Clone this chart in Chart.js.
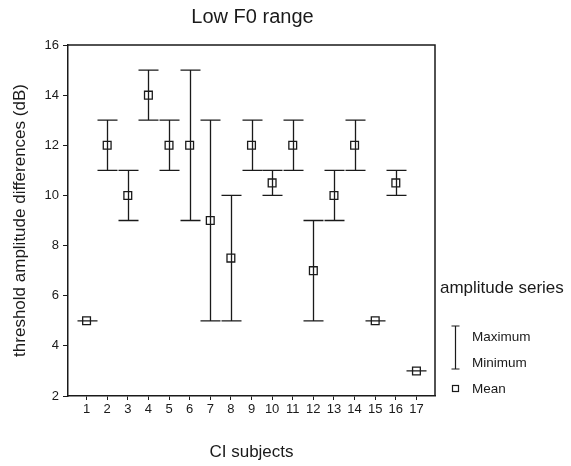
<!DOCTYPE html>
<html>
<head>
<meta charset="utf-8">
<title>Low F0 range</title>
<script src="https://cdn.jsdelivr.net/npm/chart.js@4/dist/chart.umd.min.js"></script>
<style>
  html, body { margin: 0; padding: 0; background: #fff; }
  #wrap { width: 571px; height: 466px; position: relative; }
</style>
</head>
<body>
<div id="wrap"><canvas id="chart"></canvas></div>
<script>
// data
const subjects = [1, 2, 3, 4, 5, 6, 7, 8, 9, 10, 11, 12, 13, 14, 15, 16, 17];
const meanValues = [5, 12, 10, 14, 12, 12, 9, 7.5, 12, 10.5, 12, 7, 10, 12, 5, 10.5, 3];
const minValues = [5, 11, 9, 13, 11, 9, 5, 5, 11, 10, 11, 5, 9, 11, 5, 10, 3];
const maxValues = [5, 13, 11, 15, 13, 15, 13, 10, 13, 11, 13, 9, 11, 13, 5, 11, 3];
const yTicks = [2, 4, 6, 8, 10, 12, 14, 16];

const FONT = "'Liberation Sans', Arial, Helvetica, sans-serif";
const INK = '#1a1a1a';

// whiskers, frame, title and legend
const extras = {
    id: 'extras',
    afterDatasetsDraw(chart) {
        const ctx = chart.ctx;
        const xs = chart.scales.x;
        const ys = chart.scales.y;
        const area = chart.chartArea;
        const capHalf = 10;

        ctx.save();
        ctx.strokeStyle = INK;
        ctx.lineWidth = 1.3;
        subjects.forEach((s, i) => {
            const x = Math.round(xs.getPixelForValue(s)) + 0.5;
            const yLo = ys.getPixelForValue(minValues[i]);
            const yHi = ys.getPixelForValue(maxValues[i]);
            ctx.beginPath();
            ctx.moveTo(x, yLo);
            ctx.lineTo(x, yHi);
            ctx.moveTo(x - capHalf, yLo);
            ctx.lineTo(x + capHalf, yLo);
            ctx.moveTo(x - capHalf, yHi);
            ctx.lineTo(x + capHalf, yHi);
            ctx.stroke();
        });

        // top and right edges of the frame
        ctx.lineWidth = 1.5;
        ctx.beginPath();
        ctx.moveTo(area.left, area.top);
        ctx.lineTo(area.right, area.top);
        ctx.lineTo(area.right, area.bottom);
        ctx.stroke();
        ctx.restore();
    },
    afterDraw(chart) {
        const ctx = chart.ctx;
        const area = chart.chartArea;
        ctx.save();
        ctx.fillStyle = INK;
        ctx.textBaseline = 'middle';

        ctx.font = '20px ' + FONT;
        ctx.textAlign = 'center';
        ctx.fillText('Low F0 range', (area.left + area.right) / 2 + 1, 17);

        // legend
        ctx.textAlign = 'left';
        ctx.font = '17px ' + FONT;
        ctx.fillText('amplitude series', 440, 288);

        ctx.strokeStyle = INK;
        ctx.lineWidth = 1.2;
        const lx = 455.5;
        ctx.beginPath();
        ctx.moveTo(lx, 326);
        ctx.lineTo(lx, 369);
        ctx.moveTo(lx - 4, 326);
        ctx.lineTo(lx + 4, 326);
        ctx.moveTo(lx - 4, 369);
        ctx.lineTo(lx + 4, 369);
        ctx.stroke();
        ctx.strokeRect(452.5, 385.5, 6, 6);

        ctx.font = '13.5px ' + FONT;
        ctx.fillText('Maximum', 472, 337);
        ctx.fillText('Minimum', 472, 363);
        ctx.fillText('Mean', 472, 389);
        ctx.restore();
    }
};

new Chart(document.getElementById('chart'), {
    type: 'scatter',
    data: {
        datasets: [{
            label: 'Mean',
            data: subjects.map((s, i) => ({ x: s, y: meanValues[i] })),
            pointStyle: 'rect',
            pointRadius: 5.5,
            pointHoverRadius: 5.5,
            pointBorderWidth: 1.3,
            pointBorderColor: INK,
            pointBackgroundColor: 'rgba(255,255,255,0)'
        }]
    },
    options: {
        responsive: true,
        maintainAspectRatio: false,
        animation: false,
        events: [],
        layout: { padding: { left: 0, top: 45, right: 136, bottom: 0 } },
        plugins: {
            legend: { display: false },
            title: { display: false },
            tooltip: { enabled: false }
        },
        scales: {
            x: {
                type: 'linear',
                min: 0.1,
                max: 17.9,
                afterFit: s => { s.height = 70; },
                afterBuildTicks: s => { s.ticks = subjects.map(v => ({ value: v })); },
                grid: { display: true, drawOnChartArea: false, drawTicks: true, tickLength: 4, color: INK, lineWidth: 1 },
                border: { display: true, color: INK, width: 1.5 },
                ticks: {
                    color: INK,
                    font: { family: FONT, size: 13 },
                    padding: 2,
                    maxRotation: 0,
                    autoSkip: false
                },
                title: {
                    display: true,
                    text: 'CI subjects',
                    color: INK,
                    font: { family: FONT, size: 17 },
                    padding: { top: 0, bottom: 3 }
                }
            },
            y: {
                min: 2,
                max: 16,
                afterFit: s => { s.width = 68; },
                afterBuildTicks: s => { s.ticks = yTicks.map(v => ({ value: v })); },
                grid: { display: true, drawOnChartArea: false, drawTicks: true, tickLength: 5, color: INK, lineWidth: 1 },
                border: { display: true, color: INK, width: 1.5 },
                ticks: {
                    color: INK,
                    font: { family: FONT, size: 13 },
                    padding: 4
                },
                title: {
                    display: true,
                    text: 'threshold amplitude differences (dB)',
                    color: INK,
                    font: { family: FONT, size: 17 },
                    padding: { top: 10, bottom: 0 }
                }
            }
        }
    },
    plugins: [extras]
});
</script>
</body>
</html>
